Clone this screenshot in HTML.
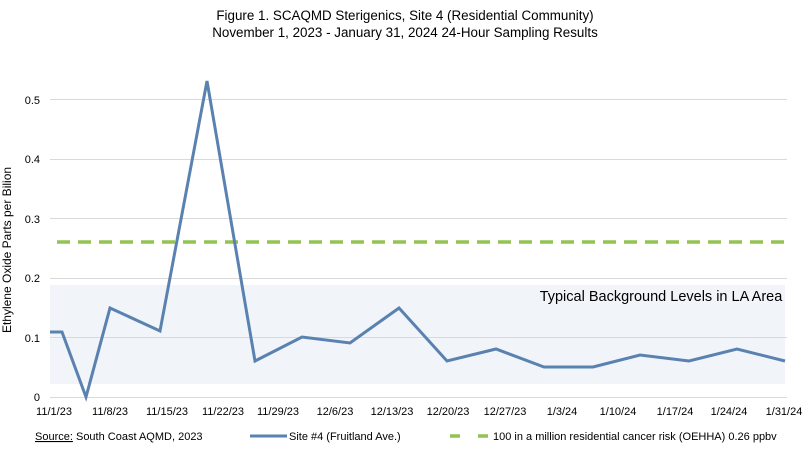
<!DOCTYPE html>
<html><head><meta charset="utf-8"><style>
body{margin:0;background:#fff;}
svg{display:block;font-family:"Liberation Sans",sans-serif;}
</style></head><body>
<svg width="811" height="454" viewBox="0 0 811 454">
<text x="405" y="20" text-anchor="middle" font-size="13.4" fill="#000">Figure 1. SCAQMD Sterigenics, Site 4 (Residential Community)</text>
<text x="405" y="37" text-anchor="middle" font-size="13.4" fill="#000">November 1, 2023 - January 31, 2024 24-Hour Sampling Results</text>
<rect x="50" y="285" width="735" height="99" fill="#f1f4f8"/>
<g stroke="#d9d9d9" stroke-width="1">
<line x1="50" x2="787" y1="99.5" y2="99.5"/>
<line x1="50" x2="787" y1="159.5" y2="159.5"/>
<line x1="50" x2="787" y1="218.5" y2="218.5"/>
<line x1="50" x2="787" y1="278.5" y2="278.5"/>
<line x1="50" x2="787" y1="337.5" y2="337.5"/>
<line x1="50" x2="787" y1="397.5" y2="397.5"/>
</g>
<g font-size="11" fill="#000" text-anchor="end">
<text x="40" y="104">0.5</text><text x="40" y="163">0.4</text><text x="40" y="223">0.3</text>
<text x="40" y="282">0.2</text><text x="40" y="342">0.1</text><text x="40" y="401">0</text>
</g>
<text transform="translate(11,250) rotate(-90)" text-anchor="middle" font-size="12" fill="#000">Ethylene Oxide Parts per Bilion</text>
<text x="661" y="301" text-anchor="middle" font-size="14.5" fill="#000">Typical Background Levels in LA Area</text>
<line x1="57" x2="787" y1="242" y2="242" stroke="#92c353" stroke-width="3.5" stroke-dasharray="13,8"/>
<polyline fill="none" stroke="#5a82b0" stroke-width="3" stroke-linejoin="miter" points="50,332 62,332 86,397 110,308 160,331 207,81 255,361 302,337 350,343 399,308 447,361 496,349 544,367 593,367 640,355 689,361 737,349 785,361"/>
<g font-size="11" fill="#000" text-anchor="middle">
<text x="54" y="415">11/1/23</text><text x="110" y="415">11/8/23</text><text x="167" y="415">11/15/23</text>
<text x="223" y="415">11/22/23</text><text x="278" y="415">11/29/23</text><text x="335" y="415">12/6/23</text>
<text x="392" y="415">12/13/23</text><text x="448" y="415">12/20/23</text><text x="505" y="415">12/27/23</text>
<text x="562" y="415">1/3/24</text><text x="618" y="415">1/10/24</text><text x="675" y="415">1/17/24</text>
<text x="729" y="415">1/24/24</text><text x="784" y="415">1/31/24</text>
</g>
<text x="35" y="440" font-size="11" fill="#000"><tspan text-decoration="underline">Source:</tspan> South Coast AQMD, 2023</text>
<line x1="250" x2="287" y1="436" y2="436" stroke="#5a82b0" stroke-width="3"/>
<text x="289" y="440" font-size="11" fill="#000">Site #4 (Fruitland Ave.)</text>
<line x1="450" x2="490" y1="436" y2="436" stroke="#92c353" stroke-width="3.5" stroke-dasharray="10,18"/>
<text x="493" y="440" font-size="11" fill="#000">100 in a million residential cancer risk (OEHHA) 0.26 ppbv</text>
</svg>
</body></html>
